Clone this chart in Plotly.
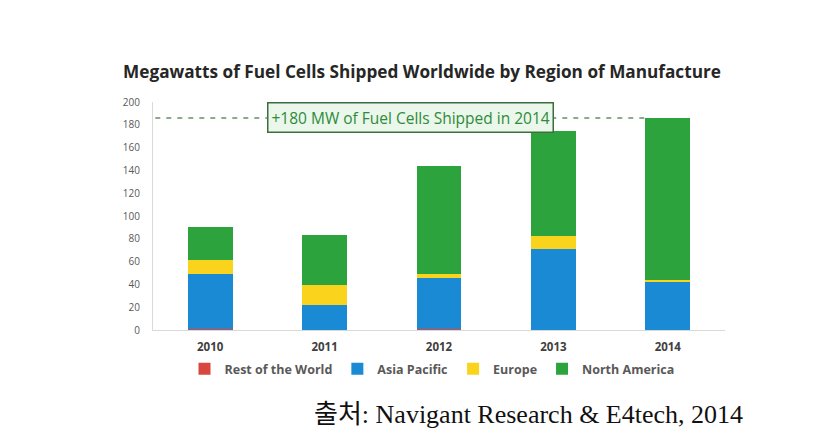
import plotly.graph_objects as go

years = ["2010", "2011", "2012", "2013", "2014"]
rest_of_world = [0.5, 0.3, 0.5, 0.3, 0.3]
asia_pacific = [49, 22, 45, 71, 42]
europe = [12, 17, 4, 11, 2]
north_america = [29, 44, 94, 92, 142]
y_ticks = [0, 20, 40, 60, 80, 100, 120, 140, 160, 180, 200]
total_line = 186
callout = "+180 MW of Fuel Cells Shipped in 2014"
title = "Megawatts of Fuel Cells Shipped Worldwide by Region of Manufacture"
source = "출처: Navigant Research & E4tech, 2014"

series = [
    ("Rest of the World", rest_of_world, "#d9463e"),
    ("Asia Pacific", asia_pacific, "#1a8ad4"),
    ("Europe", europe, "#fad31c"),
    ("North America", north_america, "#2ca33c"),
]

fig = go.Figure()
for name, vals, col in series:
    fig.add_trace(go.Bar(x=years, y=vals, name="<b>" + name + "</b>",
                         marker=dict(color=col, line=dict(width=0))))

# figure is drawn with an 8px page offset; margins compensate
fig.update_layout(
    barmode="stack",
    bargap=0.61,
    width=840, height=440,
    margin=dict(l=145, r=123, t=94, b=118),
    paper_bgcolor="white", plot_bgcolor="white",
    font=dict(family="Open Sans, Liberation Sans, sans-serif", color="#595959"),
    title=dict(text="<b>" + title + "</b>", x=(422 - 8) / 840, xanchor="center",
               y=1 - (72 - 8) / 440, yanchor="middle",
               font=dict(size=17.2, color="#262626", family="Open Sans, sans-serif")),
    showlegend=True,
    legend=dict(orientation="h", x=(432 - 153) / 572, xanchor="center", y=(330 - 369) / 228,
                yanchor="middle", font=dict(size=12.5, color="#595959"), traceorder="normal",
                itemsizing="constant", itemwidth=30, tracegroupgap=0),
    xaxis=dict(showline=True, linecolor="#d9d9d9", linewidth=1, ticks="",
               tickfont=dict(size=11.5, color="#404040", family="Open Sans, sans-serif"),
               ticklabelstandoff=6, showgrid=False, tickprefix="<b>", ticksuffix="</b>"),
    yaxis=dict(range=[0, 200], tickvals=y_ticks, showline=True, linecolor="#d9d9d9", linewidth=1,
               showgrid=False, zeroline=False, ticks="",
               tickfont=dict(size=10, color="#595959"), ticklabelstandoff=10),
)

fig.add_shape(type="line", xref="x", yref="y", x0=-0.48, x1=3.8, y0=total_line, y1=total_line,
              line=dict(color="#6a8f6a", width=1.5, dash="5px,6px"), layer="above")

fig.add_annotation(xref="paper", yref="y", x=0.451, y=total_line, text=callout, showarrow=False,
                   font=dict(size=15.5, color="#2e8b3a"), bgcolor="#eaf7ea",
                   bordercolor="#3d6e3d", borderwidth=1.5, borderpad=3, xanchor="center", yanchor="middle")

fig.add_annotation(xref="paper", yref="paper", x=(745 - 153) / 572, y=(330 - 414) / 228,
                   text=source, showarrow=False, xanchor="right", yanchor="middle",
                   font=dict(size=26, color="#111111", family="Liberation Serif, Noto Sans CJK KR, serif"))

fig.write_html("out.html")
